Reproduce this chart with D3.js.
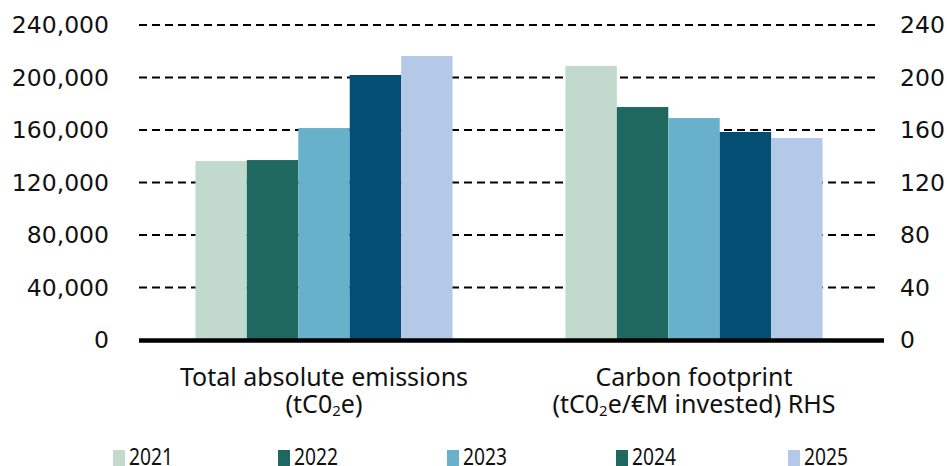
<!DOCTYPE html>
<html>
<head>
<meta charset="utf-8">
<script src="https://cdn.jsdelivr.net/npm/d3@7"></script>
<style>
  html, body { margin: 0; padding: 0; background: #fff; }
  svg { display: block; font-family: "Noto Sans", "Open Sans", sans-serif; }
</style>
</head>
<body>
<svg id="chart" width="947" height="466"></svg>
<script>
// Emissions by year: absolute (left axis, tCO2e) and footprint (right axis, tCO2e/€M)
const years = ["2021", "2022", "2023", "2024", "2025"];
const categories = ["absolute", "footprint"];
const absoluteEmissions = [136400, 137100, 161500, 201900, 216400];
const carbonFootprint = [208.8, 177.5, 169.1, 158.5, 153.9];
const leftTicks = [0, 40000, 80000, 120000, 160000, 200000, 240000];
const rightTicks = [0, 40, 80, 120, 160, 200, 240];
const barColors = ["#c2dacd", "#1f6860", "#67b1ca", "#024f73", "#b4c8e7"];
const legendColors = ["#c2dacd", "#1f6860", "#67b1ca", "#1f6860", "#b4c8e7"];

const svg = d3.select("#chart");
const plotLeft = 139, plotRight = 879, plotTop = 25, plotBottom = 340;

const yLeft = d3.scaleLinear().domain([0, 240000]).range([plotBottom, plotTop]);
const yRight = d3.scaleLinear().domain([0, 240]).range([plotBottom, plotTop]);

const x0 = d3.scaleBand().domain(categories).range([plotLeft, plotRight])
  .paddingInner(0.305).paddingOuter(0.1525);
const x1 = d3.scaleBand().domain(years).range([0, x0.bandwidth()]).padding(0);

// dashed gridlines
const grid = svg.append("g");
grid.selectAll("line").data(leftTicks.filter(d => d > 0)).join("line")
  .attr("x1", plotLeft).attr("x2", plotRight)
  .attr("y1", d => yLeft(d)).attr("y2", d => yLeft(d))
  .attr("stroke", "#000").attr("stroke-width", 1.8)
  .attr("stroke-dasharray", "8,5");

// bars
const groups = [
  { key: "absolute", values: absoluteEmissions, y: yLeft },
  { key: "footprint", values: carbonFootprint, y: yRight }
];
groups.forEach(g => {
  svg.append("g").attr("transform", `translate(${x0(g.key)},0)`)
    .selectAll("rect").data(g.values).join("rect")
    .attr("x", (d, i) => x1(years[i]))
    .attr("width", x1.bandwidth())
    .attr("y", d => g.y(d))
    .attr("height", d => plotBottom - g.y(d))
    .attr("fill", (d, i) => barColors[i]);
});

// baseline
svg.append("line")
  .attr("x1", plotLeft).attr("x2", plotRight + 5)
  .attr("y1", plotBottom + 0.5).attr("y2", plotBottom + 0.5)
  .attr("stroke", "#000").attr("stroke-width", 4.5);

// axes
const tickFont = "DejaVu Sans, sans-serif";
const leftAxis = d3.axisLeft(yLeft).tickValues(leftTicks).tickSize(0).tickPadding(30)
  .tickFormat(d3.format(","));
svg.append("g").attr("transform", `translate(${plotLeft},0)`).call(leftAxis)
  .call(g => g.select(".domain").remove())
  .selectAll("text").attr("font-size", 23.5).attr("fill", "#111")
  .attr("font-family", tickFont);

const rightAxis = d3.axisRight(yRight).tickValues(rightTicks).tickSize(0).tickPadding(21);
svg.append("g").attr("transform", `translate(${plotRight},0)`).call(rightAxis)
  .call(g => g.select(".domain").remove())
  .selectAll("text").attr("font-size", 23.5).attr("fill", "#111")
  .attr("font-family", tickFont);

// category labels
const catLabels = {
  absolute: [["Total absolute emissions"], ["(tC0", "2", "e)"]],
  footprint: [["Carbon footprint"], ["(tC0", "2", "e/€M invested) RHS"]]
};
categories.forEach(c => {
  const cx = x0(c) + x0.bandwidth() / 2;
  const lines = catLabels[c];
  svg.append("text").attr("x", cx).attr("y", 386)
    .attr("text-anchor", "middle").attr("font-size", 25).attr("fill", "#111")
    .text(lines[0][0]);
  const t2 = svg.append("text").attr("x", cx).attr("y", 413)
    .attr("text-anchor", "middle").attr("font-size", 25).attr("fill", "#111");
  t2.append("tspan").text(lines[1][0]);
  t2.append("tspan").attr("font-size", 15).attr("dy", 3).text(lines[1][1]);
  t2.append("tspan").attr("dy", -3).text(lines[1][2]);
});

// legend
const legendX = [113, 278, 447, 616, 788];
const legend = svg.append("g");
years.forEach((yr, i) => {
  legend.append("rect").attr("x", legendX[i]).attr("y", 450)
    .attr("width", 12).attr("height", 16).attr("fill", legendColors[i]);
  legend.append("text").attr("x", legendX[i] + 16).attr("y", 465)
    .attr("font-size", 24).attr("fill", "#111")
    .attr("textLength", 44).attr("lengthAdjust", "spacingAndGlyphs")
    .text(yr);
});
</script>
</body>
</html>
